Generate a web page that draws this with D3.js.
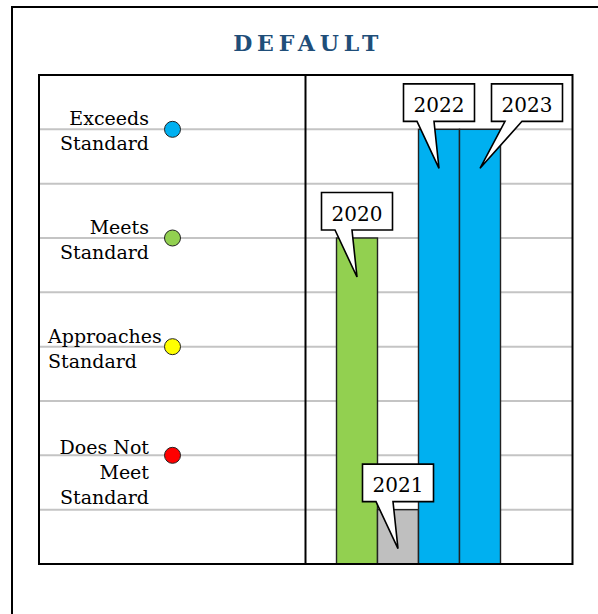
<!DOCTYPE html>
<html>
<head>
<meta charset="utf-8">
<script src="https://cdn.jsdelivr.net/npm/d3@7"></script>
<style>
  html, body { margin: 0; padding: 0; background: #fff; }
  svg { display: block; }
  text { font-family: "DejaVu Serif", "Liberation Serif", serif; }
</style>
</head>
<body>
<svg id="chart" width="598" height="614"></svg>
<script>
// ---- data ----
const title = "DEFAULT";
const years = ["2020", "2021", "2022", "2023"];
const scores = [6, 1, 8, 8];
const barColors = ["#92D050", "#BFBFBF", "#00B0F0", "#00B0F0"];
const levelLabels = [["Does Not", "Meet", "Standard"], ["Approaches", "Standard"], ["Meets", "Standard"], ["Exceeds", "Standard"]];
const levelValues = [2, 4, 6, 8];
const levelColors = ["#FF0000", "#FFFF00", "#92D050", "#00B0F0"];
const gridValues = [1, 2, 3, 4, 5, 6, 7, 8];
const yDomain = [0, 9];

// ---- layout ----
const svg = d3.select("#chart");
const plot = { left: 39, right: 572.5, top: 75, bottom: 564, divider: 305.5 };

// outer frame
svg.append("rect")
  .attr("x", 12).attr("y", 7).attr("width", 620).attr("height", 640)
  .attr("fill", "none").attr("stroke", "#000").attr("stroke-width", 2);

// title
svg.append("text")
  .attr("x", (plot.left + plot.right) / 2 + 2.5)
  .attr("y", 51)
  .attr("text-anchor", "middle")
  .attr("font-size", 22)
  .attr("font-weight", "bold")
  .attr("letter-spacing", 4.8)
  .attr("fill", "#1F4E79")
  .text(title);

const y = d3.scaleLinear().domain(yDomain).range([plot.bottom, plot.top]);
const x = d3.scaleBand().domain(years).range([336.5, 500.5]).padding(0);

// gridlines
svg.append("g")
  .selectAll("line")
  .data(gridValues)
  .join("line")
  .attr("x1", plot.left).attr("x2", plot.right)
  .attr("y1", d => y(d)).attr("y2", d => y(d))
  .attr("stroke", "#C4C4C4").attr("stroke-width", 2);

// bars
svg.append("g")
  .selectAll("rect")
  .data(years)
  .join("rect")
  .attr("x", d => x(d))
  .attr("y", (d, i) => y(scores[i]))
  .attr("width", x.bandwidth())
  .attr("height", (d, i) => y(0) - y(scores[i]))
  .attr("fill", (d, i) => barColors[i])
  .attr("stroke", "#222").attr("stroke-width", 1.4);

// plot border + divider
svg.append("rect")
  .attr("x", plot.left).attr("y", plot.top)
  .attr("width", plot.right - plot.left).attr("height", plot.bottom - plot.top)
  .attr("fill", "none").attr("stroke", "#000").attr("stroke-width", 2);
svg.append("line")
  .attr("x1", plot.divider).attr("x2", plot.divider)
  .attr("y1", plot.top).attr("y2", plot.bottom)
  .attr("stroke", "#000").attr("stroke-width", 2);

// level labels
const labelRight = 149, labelLeft = 48;
const lg = svg.append("g");
levelLabels.forEach((lines, i) => {
  const cy = y(levelValues[i]);
  const t = lg.append("text").attr("font-size", 19).attr("fill", "#000");
  const firstBase = cy - 4 + (lines.length - 2) * 3;
  lines.forEach((ln, j) => {
    t.append("tspan").attr("y", firstBase + j * 25).text(ln);
  });
  let maxW = 0;
  t.selectAll("tspan").each(function () { maxW = Math.max(maxW, this.getComputedTextLength()); });
  if (maxW > labelRight - labelLeft) {
    t.attr("text-anchor", "start").selectAll("tspan").attr("x", labelLeft);
  } else {
    t.attr("text-anchor", "end").selectAll("tspan").attr("x", labelRight);
  }
  lg.append("circle")
    .attr("cx", 172.5).attr("cy", cy).attr("r", 8)
    .attr("fill", levelColors[i]).attr("stroke", "#222").attr("stroke-width", 1);
});

// callouts
const boxW = 71, boxH = 37.5, gap = 17;
let prevRight = -Infinity;
const cg = svg.append("g");
years.forEach((yr, i) => {
  const tipX = x(yr) + x.bandwidth() / 2;
  const tipY = y(scores[i]) + 39;
  let cx = tipX;
  if (cx - boxW / 2 < prevRight + gap && y(scores[i]) === y(scores[i - 1] ?? -1)) {
    cx = prevRight + gap + boxW / 2;
  }
  prevRight = cx + boxW / 2;
  const bx = cx - boxW / 2, by = tipY - 47 - boxH, bb = by + boxH;
  const path = d3.path();
  path.moveTo(bx, by);
  path.lineTo(bx + boxW, by);
  path.lineTo(bx + boxW, bb);
  path.lineTo(cx - 5, bb);
  path.lineTo(tipX, tipY);
  path.lineTo(cx - 22, bb);
  path.lineTo(bx, bb);
  path.closePath();
  cg.append("path").attr("d", path.toString())
    .attr("fill", "#fff").attr("stroke", "#000").attr("stroke-width", 1.6)
    .attr("stroke-linejoin", "miter");
  cg.append("text")
    .attr("x", cx).attr("y", by + 28)
    .attr("text-anchor", "middle")
    .attr("font-size", 20).attr("fill", "#000")
    .text(yr);
});
</script>
</body>
</html>
